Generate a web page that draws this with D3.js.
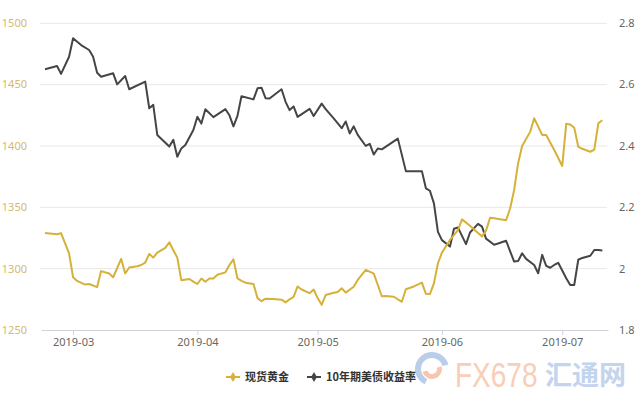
<!DOCTYPE html>
<html><head><meta charset="utf-8">
<script src="https://cdn.jsdelivr.net/npm/d3@7"></script>
<style>body{margin:0;background:#fff} svg{display:block}</style>
</head><body><svg id="c" width="640" height="400"></svg>
<script>
const goldDates = ["2019-02-22","2019-02-25","2019-02-26","2019-02-28","2019-03-01","2019-03-02","2019-03-04","2019-03-05","2019-03-07","2019-03-08","2019-03-10","2019-03-11","2019-03-13","2019-03-14","2019-03-15","2019-03-17","2019-03-18","2019-03-19","2019-03-20","2019-03-21","2019-03-22","2019-03-24","2019-03-25","2019-03-26","2019-03-27","2019-03-28","2019-03-30","2019-03-31","2019-04-01","2019-04-02","2019-04-03","2019-04-04","2019-04-05","2019-04-06","2019-04-08","2019-04-09","2019-04-10","2019-04-11","2019-04-12","2019-04-13","2019-04-15","2019-04-16","2019-04-17","2019-04-18","2019-04-20","2019-04-22","2019-04-23","2019-04-24","2019-04-25","2019-04-26","2019-04-27","2019-04-29","2019-04-30","2019-05-01","2019-05-02","2019-05-03","2019-05-05","2019-05-06","2019-05-07","2019-05-08","2019-05-10","2019-05-11","2019-05-13","2019-05-15","2019-05-17","2019-05-18","2019-05-20","2019-05-22","2019-05-23","2019-05-25","2019-05-27","2019-05-28","2019-05-29","2019-05-30","2019-05-31","2019-06-01","2019-06-03","2019-06-05","2019-06-06","2019-06-08","2019-06-10","2019-06-11","2019-06-12","2019-06-13","2019-06-14","2019-06-17","2019-06-18","2019-06-19","2019-06-20","2019-06-21","2019-06-23","2019-06-24","2019-06-26","2019-06-27","2019-06-29","2019-07-01","2019-07-02","2019-07-03","2019-07-04","2019-07-05","2019-07-06","2019-07-08","2019-07-09","2019-07-10","2019-07-11"];
const goldValues = [1329,1328,1329,1312.5,1293,1290,1287,1287.5,1285,1298,1296,1293,1308,1296,1301,1302,1303,1305,1312,1309,1313,1317,1321.5,1315,1309,1290.5,1291.6,1289.4,1287.5,1292,1289.4,1292,1292,1295,1297,1303,1307.6,1292,1290,1288.6,1287.5,1276,1273.5,1275.5,1275.3,1274.7,1272.5,1275,1277,1285.5,1283,1280,1283,1276,1270.5,1278.5,1280.4,1281,1284,1280.5,1285.3,1290.8,1299,1296,1277.5,1277.7,1277.1,1273,1283.2,1285.5,1288.6,1279.5,1279.3,1288,1304.4,1313,1323.4,1331.5,1340.2,1335,1329,1326.3,1331,1341.5,1341,1339.5,1349,1364,1386,1400,1411.5,1422.6,1409,1409,1396.7,1383.7,1418.2,1417.5,1414.8,1399.4,1397.7,1395.3,1397,1418.5,1421];
const yieldDates = ["2019-02-22","2019-02-25","2019-02-26","2019-02-28","2019-03-01","2019-03-03","2019-03-05","2019-03-06","2019-03-07","2019-03-08","2019-03-11","2019-03-12","2019-03-14","2019-03-15","2019-03-19","2019-03-20","2019-03-21","2019-03-22","2019-03-25","2019-03-26","2019-03-27","2019-03-28","2019-03-29","2019-03-31","2019-04-01","2019-04-02","2019-04-03","2019-04-05","2019-04-08","2019-04-09","2019-04-10","2019-04-11","2019-04-12","2019-04-15","2019-04-16","2019-04-17","2019-04-18","2019-04-19","2019-04-22","2019-04-23","2019-04-24","2019-04-25","2019-04-26","2019-04-29","2019-04-30","2019-05-02","2019-05-03","2019-05-05","2019-05-07","2019-05-08","2019-05-09","2019-05-10","2019-05-11","2019-05-13","2019-05-14","2019-05-15","2019-05-16","2019-05-17","2019-05-21","2019-05-23","2019-05-27","2019-05-28","2019-05-29","2019-05-30","2019-05-31","2019-06-01","2019-06-03","2019-06-04","2019-06-05","2019-06-07","2019-06-08","2019-06-10","2019-06-11","2019-06-12","2019-06-14","2019-06-15","2019-06-17","2019-06-19","2019-06-20","2019-06-21","2019-06-22","2019-06-24","2019-06-25","2019-06-26","2019-06-27","2019-06-28","2019-06-29","2019-06-30","2019-07-02","2019-07-03","2019-07-04","2019-07-05","2019-07-06","2019-07-08","2019-07-09","2019-07-10","2019-07-11"];
const yieldValues = [2.650,2.661,2.635,2.691,2.751,2.729,2.713,2.691,2.639,2.626,2.637,2.601,2.628,2.585,2.610,2.523,2.534,2.436,2.398,2.420,2.365,2.392,2.403,2.452,2.495,2.473,2.520,2.494,2.520,2.500,2.464,2.498,2.562,2.552,2.588,2.590,2.556,2.555,2.585,2.544,2.517,2.529,2.495,2.521,2.498,2.538,2.520,2.490,2.458,2.480,2.441,2.464,2.436,2.400,2.407,2.372,2.392,2.389,2.424,2.318,2.318,2.262,2.254,2.213,2.120,2.093,2.072,2.130,2.134,2.080,2.118,2.146,2.137,2.098,2.078,2.082,2.091,2.023,2.025,2.050,2.032,2.012,1.985,2.045,2.009,2.003,2.012,2.019,1.969,1.947,1.947,2.029,2.035,2.042,2.061,2.061,2.059];
const leftTicks = [1250,1300,1350,1400,1450,1500];
const rightTicks = [1.8,2,2.2,2.4,2.6,2.8];
const seriesNames = ["现货黄金","10年期美债收益率"];
const xDomain = ["2019-02-21 00:00","2019-07-12 10:00"];

const svg = d3.select("#c");
const font = "'Noto Sans','Noto Sans CJK SC',sans-serif";
const goldColor = "#d6b13a", darkColor = "#454545";
const pDate = d3.timeParse("%Y-%m-%d");
const pDT = d3.timeParse("%Y-%m-%d %H:%M");

const x = d3.scaleTime().domain(xDomain.map(pDT)).range([41, 608]);
const yL = d3.scaleLinear().domain([1250, 1500]).range([330, 23.3]);
const yR = d3.scaleLinear().domain([1.8, 2.8]).range([330, 23.3]);

// grid
svg.append("g").selectAll("line").data(leftTicks.slice(1)).join("line")
  .attr("x1", 40).attr("x2", 607)
  .attr("y1", d => yL(d)).attr("y2", d => yL(d))
  .attr("stroke", "#e8e8e8").attr("stroke-width", 1);

// x axis
const xa = svg.append("g").attr("transform", "translate(0,330)")
  .call(d3.axisBottom(x).ticks(d3.timeMonth.every(1)).tickFormat(d3.timeFormat("%Y-%m")).tickSize(5).tickSizeOuter(0));
xa.select(".domain").attr("stroke", "#cfd3da");
xa.selectAll(".tick line").attr("stroke", "#cfd3da");
xa.selectAll("text").attr("fill", "#666").style("font", "11px " + font);

// left labels
svg.append("g").selectAll("text").data(leftTicks).join("text")
  .attr("x", 27).attr("y", d => yL(d)).attr("dy", "0.35em")
  .attr("text-anchor", "end").attr("fill", "#d6b86e")
  .style("font", "11px " + font).text(d => d);

// right labels
svg.append("g").selectAll("text").data(rightTicks).join("text")
  .attr("x", 619).attr("y", d => yR(d)).attr("dy", "0.35em")
  .attr("text-anchor", "start").attr("fill", "#666")
  .style("font", "11px " + font).text(d => d3.format("~g")(d));

// lines
const gold = goldDates.map((d, i) => ({t: pDate(d), v: goldValues[i]}));
const yld = yieldDates.map((d, i) => ({t: pDate(d), v: yieldValues[i]}));
svg.append("path").datum(yld)
  .attr("d", d3.line().x(d => x(d.t)).y(d => yR(d.v)))
  .attr("fill", "none").attr("stroke", darkColor).attr("stroke-width", 2).attr("stroke-linejoin", "round");
svg.append("path").datum(gold)
  .attr("d", d3.line().x(d => x(d.t)).y(d => yL(d.v)))
  .attr("fill", "none").attr("stroke", goldColor).attr("stroke-width", 2).attr("stroke-linejoin", "round");

// watermark
const wm = svg.append("g").attr("opacity", 0.8);
wm.append("path").attr("d", d3.arc()({innerRadius: 11, outerRadius: 17, startAngle: -2.7, endAngle: 1.3}))
  .attr("transform", "translate(432,369)").attr("fill", "#a9c2e6");
wm.append("path").attr("d", d3.arc()({innerRadius: 5, outerRadius: 10, startAngle: 1.3, endAngle: 4.4}))
  .attr("transform", "translate(432,369)").attr("fill", "#f4b89a");
wm.append("g").attr("transform", "translate(455,387) scale(0.8,1)")
  .append("text").attr("x", 0).attr("y", 0)
  .attr("fill", "#f7c3a4").style("font", "35px 'Liberation Sans',sans-serif").text("FX678");
wm.append("text").attr("x", 545).attr("y", 385).attr("fill", "#b5cae9")
  .style("font", "bold 27px 'Noto Sans CJK SC',sans-serif").text("汇通网");

// legend
const leg = [{name: seriesNames[0], c: goldColor, x: 233}, {name: seriesNames[1], c: darkColor, x: 314}];
const lg = svg.append("g").selectAll("g").data(leg).join("g").attr("transform", d => `translate(${d.x},377)`);
lg.append("line").attr("x1", -7).attr("x2", 7).attr("stroke", d => d.c).attr("stroke-width", 2);
lg.append("path").attr("d", d3.symbol(d3.symbolDiamond, 30)()).attr("fill", d => d.c);
lg.append("text").attr("x", 12).attr("dy", "0.35em").attr("fill", "#333")
  .style("font", "bold 11px 'Noto Sans CJK SC',sans-serif").text(d => d.name);
</script></body></html>
